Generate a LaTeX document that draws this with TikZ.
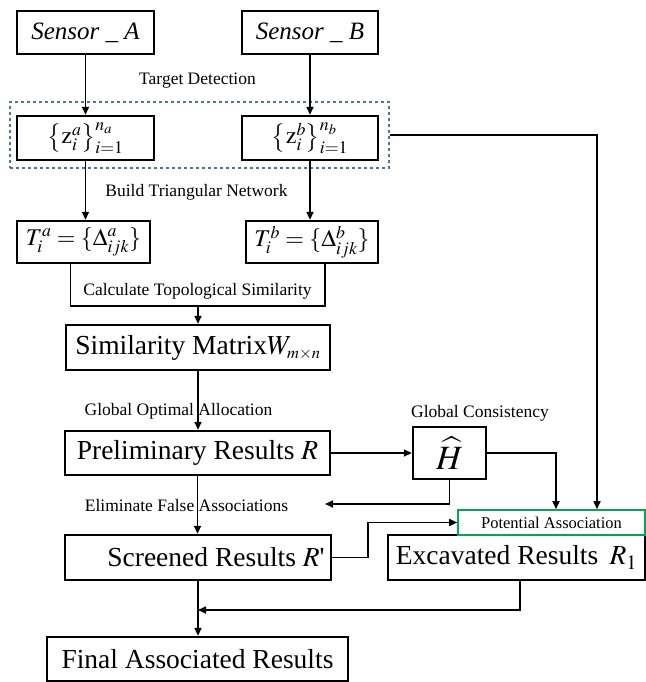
\documentclass[tikz,border=0pt]{standalone}
\usepackage{mathptmx}
\usepackage{fontspec}
\setmainfont{Liberation Serif}
\usetikzlibrary{arrows.meta}
\definecolor{dashblue}{RGB}{70,118,170}
\definecolor{potgreen}{RGB}{0,168,80}

\begin{document}
\begin{tikzpicture}[x=1pt, y=-1pt,
    blk/.style={rectangle, draw, line width=2.4pt, inner sep=0pt, align=center,
                font=\fontsize{27.5}{30}\selectfont},
    snsr/.style={blk, font=\fontsize{25}{28}\selectfont\itshape},
    mth/.style={blk, font=\fontsize{24}{26}\selectfont},
    note/.style={inner sep=0pt, font=\fontsize{17.5}{19}\selectfont},
    arr/.style={-{Triangle[length=8pt,width=7pt]}, line width=1.6pt},
    link/.style={line width=1.6pt}
  ]
  \useasboundingbox (0,0) rectangle (645,682);

  % two sensors and their detections
  \node[snsr, minimum width=137pt, minimum height=43pt] (sa) at (85.5,32.5) {Sensor \_ A};
  \node[snsr, minimum width=136pt, minimum height=43pt] (sb) at (310,32.5) {Sensor \_ B};
  \node[mth, minimum width=137pt, minimum height=44pt] (za) at (85.5,138)
    {$\bigl\{\mathrm{z}_i^{a}\bigr\}_{i=1}^{n_a}$};
  \node[mth, minimum width=136pt, minimum height=44pt] (zb) at (310,138)
    {$\bigl\{\mathrm{z}_i^{b}\bigr\}_{i=1}^{n_b}$};
  \node[draw=dashblue, dashed, line width=1.2pt, minimum width=379pt,
        minimum height=66pt] (det) at (199.5,135) {};

  % triangular networks
  \node[mth, minimum width=133pt, minimum height=42pt] (ta) at (83.5,242)
    {$T_i^a = \{\Delta_{ijk}^a\}$};
  \node[mth, minimum width=132pt, minimum height=42pt] (tb) at (312,242)
    {$T_i^b = \{\Delta_{ijk}^b\}$};

  % main chain
  \node[blk, minimum width=264pt, minimum height=45pt] (sim) at (198,347.5)
    {Similarity Matrix$W_{\scriptscriptstyle m\times n}$};
  \node[blk, minimum width=265pt, minimum height=44pt] (pre) at (197.5,453)
    {Preliminary Results $R$};
  \node[blk, minimum width=73pt, minimum height=52pt,
        font=\fontsize{34}{36}\selectfont] (hat) at (449.5,453)
    {$\widehat{H}$};
  \node[blk, minimum width=266pt, minimum height=45pt] (scr) at (198,557.5)
    {\hspace*{36pt}Screened Results $R$\textquotesingle};
  \node[blk, minimum width=257pt, minimum height=45pt] (exc) at (516.5,557.5)
    {Excavated Results \,$R_1$};
  \node[draw=potgreen, line width=1.6pt, minimum width=187pt, minimum height=25pt,
        inner sep=0pt, font=\fontsize{16.5}{18}\selectfont] (pot) at (551.5,522.5)
    {Potential Association};
  \node[blk, minimum width=301pt, minimum height=44pt] (fin) at (197.5,659)
    {Final Associated Results};

  % step labels
  \node[note] (tdet) at (197.5,81) {Target Detection};
  \node[note] (btn)  at (196.5,192) {Build Triangular Network};
  \node[note] (cts)  at (197.5,291) {Calculate Topological Similarity};
  \node[note] (goa)  at (178.5,411) {Global Optimal Allocation};
  \node[note] (gcon) at (480,413) {Global Consistency};
  \node[note] (efa)  at (186.5,506) {Eliminate False Associations};

  \coordinate (mrg) at (198,306);
  \coordinate (fb) at (325,504);
  \coordinate (jn) at (198,610);

  % connectors
  \draw[arr] (sa) -- (za);
  \draw[arr] (sb) -- (zb);
  \draw[arr] (za.south) -- (za.south |- ta.north);
  \draw[arr] (zb.south) -- (zb.south |- tb.north);
  \draw[link] ([xshift=-13pt]ta.south) |- (mrg) -| ([xshift=13pt]tb.south);
  \draw[arr] (mrg) -- (sim.north);
  \draw[arr] (sim.south) -- (sim.south |- pre.north);
  \draw[arr] (pre.east) -- (hat.west);
  \draw[arr] (hat.east) -| ([xshift=4.5pt]pot.north);
  \draw[arr] (det.east) -| ([xshift=45.5pt]pot.north);
  \draw[arr] (hat.south) |- (fb);
  \draw[arr] (pre.south) -- (pre.south |- scr.north);
  \draw[arr] (scr.east) -- ++(36,0) |- (pot.west);
  \draw[arr] (scr.south) -- (scr.south |- fin.north);
  \draw[arr] ([xshift=3.5pt]exc.south) |- (jn);
\end{tikzpicture}
\end{document}
